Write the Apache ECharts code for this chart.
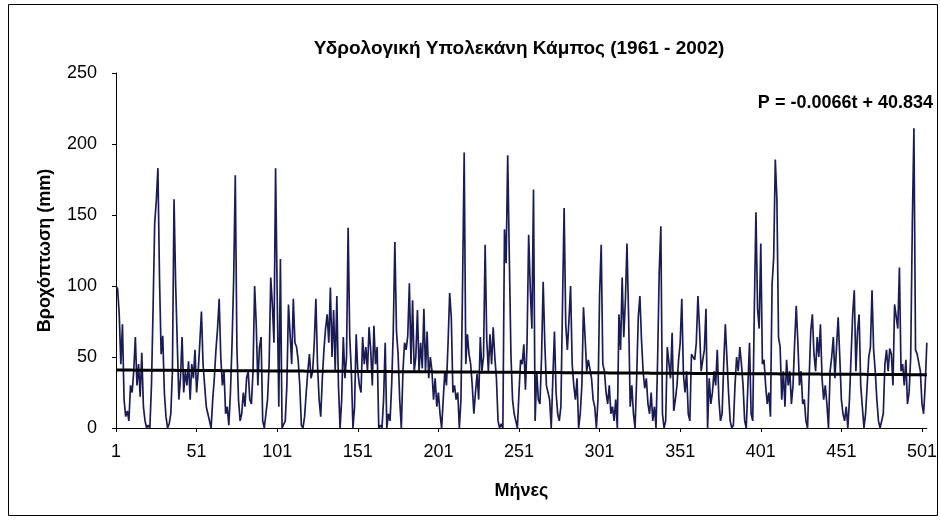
<!DOCTYPE html>
<html>
<head>
<meta charset="utf-8">
<script src="https://cdn.jsdelivr.net/npm/echarts@6/dist/echarts.min.js"></script>
<style>
  html, body { margin: 0; padding: 0; background: #fff; }
  #chart { width: 940px; height: 522px; }
</style>
</head>
<body>
<div id="chart"></div>
<script>
// Monthly rainfall (mm), Kampos sub-basin, Jan 1961 – Dec 2002, one row per year
const rainfall = [
  100, 98, 80, 45, 73, 20, 8, 12, 5, 30, 25, 40,
  64, 30, 45, 22, 53, 15, 5, 0, 2, 0, 30, 84,
  144, 160, 183, 105, 52, 65, 25, 8, 0, 3, 10, 40,
  161, 101, 60, 20, 35, 64, 25, 40, 30, 47, 20, 45,
  35, 55, 25, 40, 60, 82, 45, 30, 15, 10, 5, 0,
  20, 35, 55, 70, 91, 50, 30, 40, 10, 15, 2, 25,
  60, 105, 178, 57, 20, 5, 10, 25, 15, 35, 40, 20,
  17, 40, 100, 73, 30, 57, 64, 5, 0, 0, 20, 45,
  106, 87, 60, 183, 93, 15, 119, 0, 0, 5, 30, 87,
  87, 45, 91, 60, 57, 48, 30, 2, 0, 8, 25, 40,
  52, 35, 40, 60, 91, 45, 20, 8, 35, 55, 70, 80,
  60, 99, 50, 83, 40, 93, 30, 0, 20, 64, 35, 50,
  141, 64, 40, 0, 15, 66, 40, 30, 25, 64, 45, 57,
  40, 71, 55, 30, 72, 45, 57, 0, 2, 0, 20, 60,
  0, 10, 5, 30, 68, 131, 68, 52, 20, 0, 40, 60,
  55, 65, 102, 45, 90, 40, 50, 83, 40, 60, 42, 84,
  40, 68, 35, 50, 40, 20, 35, 15, 25, 10, 0, 20,
  40, 30, 60, 95, 78, 25, 30, 20, 25, 0, 20, 101,
  194, 45, 66, 52, 45, 30, 10, 25, 38, 20, 64, 40,
  50, 129, 62, 40, 66, 45, 71, 50, 35, 5, 0, 3,
  0, 140, 116, 192, 120, 52, 20, 10, 5, 0, 25, 48,
  45, 59, 27, 60, 136, 98, 70, 168, 5, 40, 20, 17,
  50, 103, 60, 30, 25, 20, 0, 35, 68, 25, 10, 5,
  15, 87, 155, 73, 55, 76, 100, 45, 30, 20, 35, 0,
  10, 30, 85, 64, 40, 48, 48, 35, 20, 15, 0, 20,
  94, 129, 45, 40, 25, 17, 30, 10, 15, 5, 20, 0,
  80, 55, 106, 64, 90, 130, 78, 15, 30, 10, 0, 35,
  78, 93, 62, 40, 28, 35, 17, 10, 25, 5, 15, 0,
  48, 110, 142, 10, 0, 5, 57, 57, 35, 67, 12, 20,
  30, 48, 60, 91, 38, 25, 40, 10, 5, 52, 52, 48,
  60, 93, 70, 40, 48, 55, 84, 0, 35, 17, 25, 40,
  30, 55, 20, 5, 10, 45, 73, 73, 25, 5, 0, 2,
  30, 50, 40, 57, 45, 30, 5, 0, 0, 60, 10, 5,
  84, 152, 84, 70, 130, 45, 48, 30, 17, 25, 8, 101,
  120, 189, 161, 64, 57, 20, 40, 15, 48, 30, 40, 17,
  30, 60, 86, 60, 30, 40, 17, 20, 5, 0, 35, 68,
  80, 52, 40, 64, 50, 73, 35, 20, 30, 17, 0, 40,
  50, 64, 35, 57, 78, 50, 20, 10, 5, 15, 0, 20,
  50, 80, 97, 40, 68, 80, 30, 15, 0, 10, 30, 50,
  57, 97, 55, 40, 20, 5, 0, 0, 10, 45, 55, 40,
  56, 52, 30, 87, 87, 70, 113, 40, 45, 30, 48, 17,
  25, 50, 143, 211, 55, 52, 52, 40, 17, 10, 30, 60
];

// Month index labels 1..N
const months = rainfall.map((_, i) => String(i + 1));

// Linear trend stated on the chart: P = slope * t + intercept
const trendSlope = -0.0066;
const trendIntercept = 40.834;
const trendLabel = 'P = -0.0066t + 40.834';
const trend = months.map((_, i) => +(trendSlope * (i + 1) + trendIntercept).toFixed(3));

const yTicks = { min: 0, max: 250, step: 50 };

const chart = echarts.init(document.getElementById('chart'), null, { renderer: 'canvas' });
const font = '"Liberation Sans", Arial, sans-serif';

chart.setOption({
  backgroundColor: '#ffffff',
  animation: false,
  title: {
    text: 'Υδρολογική Υπολεκάνη Κάμπος (1961 - 2002)',
    left: 514, top: 34, textAlign: 'center',
    textStyle: { fontFamily: font, fontSize: 19, fontWeight: 'bold', color: '#000' }
  },
  grid: { left: 116, right: 8, top: 73, bottom: 94 },
  xAxis: {
    type: 'category',
    data: months,
    boundaryGap: false,
    name: 'Μήνες',
    nameLocation: 'middle',
    nameGap: 54,
    nameTextStyle: { fontFamily: font, fontSize: 18, fontWeight: 'bold', color: '#000' },
    axisLine: { lineStyle: { color: '#000', width: 1 } },
    axisTick: { show: true, interval: 49, length: 4, inside: false, lineStyle: { color: '#000' } },
    axisLabel: { interval: 49, margin: 15, fontFamily: font, fontSize: 18, color: '#000' },
    splitLine: { show: false }
  },
  yAxis: {
    type: 'value',
    min: yTicks.min, max: yTicks.max, interval: yTicks.step,
    name: 'Βροχόπτωση (mm)',
    nameLocation: 'middle',
    nameGap: 62,
    nameTextStyle: { fontFamily: font, fontSize: 18, fontWeight: 'bold', color: '#000' },
    axisLine: { show: true, lineStyle: { color: '#000', width: 1 } },
    axisTick: { show: true, length: 4, lineStyle: { color: '#000' } },
    axisLabel: { margin: 19, fontFamily: font, fontSize: 18, color: '#000' },
    splitLine: { show: false }
  },
  series: [
    {
      name: 'rainfall',
      type: 'line',
      data: rainfall,
      symbol: 'none',
      lineStyle: { color: '#1c1c55', width: 1.7 },
      z: 2
    },
    {
      name: 'trend',
      type: 'line',
      data: trend,
      symbol: 'none',
      lineStyle: { color: '#000', width: 3 },
      z: 3
    }
  ],
  graphic: [
    {
      type: 'rect',
      shape: { x: 8.5, y: 4.5, width: 929, height: 511 },
      style: { fill: 'none', stroke: '#000', lineWidth: 1 },
      silent: true
    },
    {
      type: 'text',
      right: 7, top: 94,
      style: { text: trendLabel, font: 'bold 18px ' + font, fill: '#000' },
      z: 10
    }
  ]
});
</script>
</body>
</html>
